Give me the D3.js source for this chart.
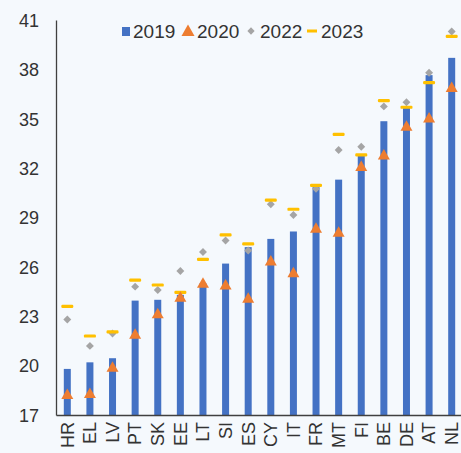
<!DOCTYPE html>
<html>
<head>
<meta charset="utf-8">
<script src="https://cdn.jsdelivr.net/npm/d3@7"></script>
<style>
  body { margin: 0; background: #f5f9fd; }
  svg { display: block; font-family: "Liberation Sans", Arial, sans-serif; }
</style>
</head>
<body>
<script>
//Width and height
var w = 461;
var h = 453;
var margin = {top: 20, right: -2, bottom: 38, left: 56};

//Data
var countries = ["HR", "EL", "LV", "PT", "SK", "EE", "LT", "SI", "ES", "CY", "IT", "FR", "MT", "FI", "BE", "DE", "AT", "NL"];
var v2019 = [19.8, 20.2, 20.45, 23.95, 24.0, 24.3, 25.0, 26.2, 27.2, 27.7, 28.15, 30.85, 31.3, 32.75, 34.85, 35.65, 37.65, 38.7];
var v2020 = [18.25, 18.3, 19.9, 21.9, 23.15, 24.15, 25.0, 24.9, 24.1, 26.35, 25.65, 28.35, 28.1, 32.1, 32.8, 34.55, 35.05, 36.9];
var v2022 = [22.8, 21.2, 21.95, 24.8, 24.6, 25.75, 26.9, 27.6, 27.0, 29.8, 29.15, 30.75, 33.1, 33.3, 35.75, 36.0, 37.8, 40.3];
var v2023 = [23.6, 21.8, 22.05, 25.2, 24.9, 24.45, 26.45, 27.95, 27.4, 30.05, 29.5, 30.95, 34.05, 32.8, 36.1, 35.7, 37.2, 40.0];
var yTicks = [17, 20, 23, 26, 29, 32, 35, 38, 41];
var legendNames = ["2019", "2020", "2022", "2023"];

var colors = {bar: "#4472c4", tri: "#ed7d31", dia: "#a5a5a5", dash: "#ffc000"};

var svg = d3.select("body")
            .append("svg")
            .attr("width", w)
            .attr("height", h);

var x = d3.scaleBand()
    .domain(countries)
    .range([margin.left, w - margin.right])
    .padding(0);

var y = d3.scaleLinear()
    .domain([17, 41])
    .range([h - margin.bottom, margin.top]);

var cx = function(i) { return x(countries[i]) + x.bandwidth() / 2; };

//bars for 2019
svg.selectAll("rect.bar")
   .data(v2019)
   .enter()
   .append("rect")
   .attr("class", "bar")
   .attr("x", function(d, i) { return cx(i) - 3.5; })
   .attr("width", 7)
   .attr("y", function(d) { return y(d); })
   .attr("height", function(d) { return y(17) - y(d); })
   .attr("fill", colors.bar);

//2022 diamonds
svg.selectAll("path.dia")
   .data(v2022)
   .enter()
   .append("path")
   .attr("class", "dia")
   .attr("d", d3.symbol().type(d3.symbolDiamond2).size(40))
   .attr("transform", function(d, i) { return "translate(" + cx(i) + "," + y(d) + ")"; })
   .attr("fill", colors.dia);

//2023 dashes
svg.selectAll("rect.dash")
   .data(v2023)
   .enter()
   .append("rect")
   .attr("class", "dash")
   .attr("x", function(d, i) { return cx(i) - 6; })
   .attr("width", 12)
   .attr("y", function(d) { return y(d) - 1.6; })
   .attr("height", 3.2)
   .attr("rx", 1.2)
   .attr("fill", colors.dash);

//2020 triangles
svg.selectAll("path.tri")
   .data(v2020)
   .enter()
   .append("path")
   .attr("class", "tri")
   .attr("d", "M0,-6L6,4.5L-6,4.5Z")
   .attr("transform", function(d, i) { return "translate(" + cx(i) + "," + y(d) + ")"; })
   .attr("fill", colors.tri);

//axes
var yAxis = svg.append("g")
    .attr("transform", "translate(" + margin.left + ",0)")
    .call(d3.axisLeft(y).tickValues(yTicks).tickSize(0).tickPadding(17));
yAxis.select(".domain").attr("stroke", "#404040").attr("stroke-width", 1.3);
yAxis.selectAll("text").attr("font-size", 18).attr("fill", "#333").attr("dy", "0.35em");

var xAxis = svg.append("g")
    .attr("transform", "translate(0," + y(17) + ")")
    .call(d3.axisBottom(x).tickSize(0));
xAxis.select(".domain").attr("stroke", "#404040").attr("stroke-width", 1.3);
xAxis.selectAll("text")
    .attr("font-size", 18)
    .attr("fill", "#333")
    .attr("transform", "rotate(-90)")
    .attr("text-anchor", "end")
    .attr("x", -7)
    .attr("y", 0)
    .attr("dy", "0.35em");

//legend
var legend = svg.append("g").attr("transform", "translate(0,31)");
var lx = [126, 188, 251, 312];
legendNames.forEach(function(name, i) {
    var g = legend.append("g").attr("transform", "translate(" + lx[i] + ",0)");
    if (i === 0) {
        g.append("rect").attr("x", -4).attr("y", -4).attr("width", 8).attr("height", 9).attr("fill", colors.bar);
    } else if (i === 1) {
        g.append("path").attr("d", "M0,-6.5L6.5,5L-6.5,5Z").attr("fill", colors.tri);
    } else if (i === 2) {
        g.append("path").attr("d", d3.symbol().type(d3.symbolDiamond2).size(34)).attr("fill", colors.dia);
    } else {
        g.append("rect").attr("x", -5).attr("y", -1.5).attr("width", 10).attr("height", 3).attr("fill", colors.dash);
    }
    g.append("text")
        .attr("x", [7, 9, 9, 9][i])
        .attr("dy", "0.36em")
        .attr("font-size", 19)
        .attr("fill", "#333")
        .text(name);
});
</script>
</body>
</html>
